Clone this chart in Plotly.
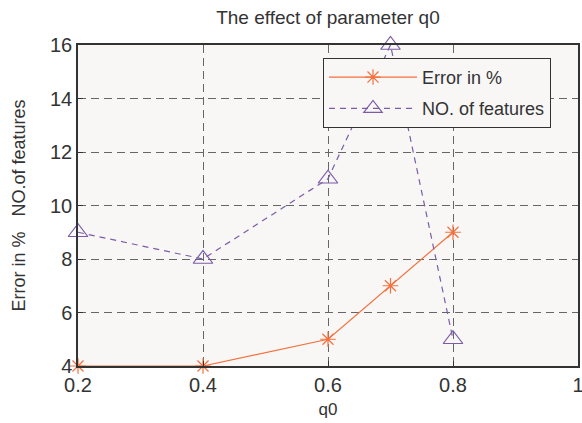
import plotly.graph_objects as go

q0 = [0.2, 0.4, 0.6, 0.7, 0.8]
error_pct = [4, 4, 5, 7, 9]
num_features = [9, 8, 11, 16, 5]
x_ticks = [0.2, 0.4, 0.6, 0.8, 1]
x_tick_text = ["0.2", "0.4", "0.6", "0.8", "1"]
y_ticks = [4, 6, 8, 10, 12, 14, 16]

orange = "#f4713f"
purple = "#7b5ca8"

fig = go.Figure()
fig.add_trace(go.Scatter(
    x=q0, y=error_pct, name="Error in %", mode="lines+markers",
    legendgroup="a",
    line=dict(color=orange, width=1.2),
    marker=dict(symbol="asterisk-open", size=13, line=dict(color=orange, width=1.2)),
    cliponaxis=False,
))
fig.add_trace(go.Scatter(
    x=q0, y=num_features, name="NO. of features", mode="lines+markers",
    legendgroup="b",
    line=dict(color=purple, width=1.2, dash="6px,5px"),
    marker=dict(symbol="triangle-up-open", size=17, line=dict(color=purple, width=1.2)),
    cliponaxis=False,
))

axis_common = dict(
    showgrid=True, gridcolor="#666666", griddash="8px,5px", gridwidth=1,
    showline=True, linecolor="#333333", linewidth=1.5, mirror=True,
    ticks="inside", ticklen=5, tickcolor="#333333",
    tickfont=dict(family="Liberation Sans, Arial", size=20, color="#333333"),
    zeroline=False, automargin=False, ticklabeloverflow="allow",
)

fig.update_layout(
    width=582, height=423,
    margin=dict(l=78, r=4, t=45, b=57),
    paper_bgcolor="white", plot_bgcolor="#f8f7f6",
    font=dict(family="Liberation Sans, Arial", color="#333333"),
    title=dict(text="The effect of parameter q0", x=0.5635, xanchor="center",
               y=0.96, yanchor="middle", font=dict(size=19, color="#333333")),
    xaxis=dict(range=[0.2, 1], tickvals=x_ticks, ticktext=x_tick_text,
               title=dict(text="q0", font=dict(size=17), standoff=8), **axis_common),
    yaxis=dict(range=[4, 16], tickvals=y_ticks,
               title=dict(text="Error in %   NO.of features", font=dict(size=18), standoff=20),
               **axis_common),
    legend=dict(x=0.49, y=0.96, xanchor="left", yanchor="top",
                bgcolor="#f8f7f6", bordercolor="#333333", borderwidth=1,
                font=dict(size=18, color="#333333"), itemwidth=88,
                tracegroupgap=5),
    showlegend=True,
)

fig.write_html("out.html", config={"displayModeBar": False},
               post_script="document.body.style.margin='0';")
